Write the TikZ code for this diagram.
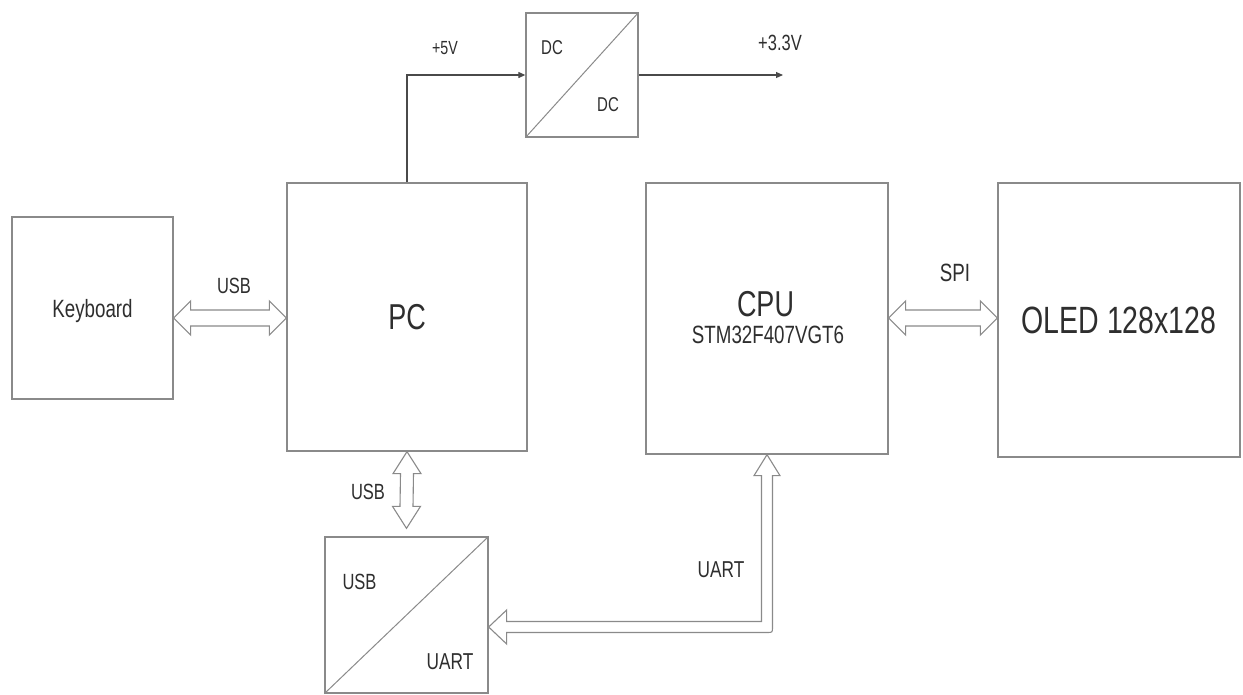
\documentclass[tikz,border=0pt]{standalone}
\usepackage{fontspec}
\newfontfamily\nar[FakeStretch=0.75]{Liberation Sans}
\usetikzlibrary{calc,arrows.meta}
\definecolor{linegray}{HTML}{8A8A8A}
\definecolor{wiregray}{HTML}{4A4A4A}
\definecolor{txtgray}{HTML}{2E2E2E}
\newcommand\fs[1]{\fontsize{#1}{#1}\selectfont}
\newcommand\hdbl[2]{\draw[fatarrow] (#1) -- ($(#1)+(17,-17)$) -- ($(#1)+(17,-8)$) -- ($(#2)+(-17,-8)$) -- ($(#2)+(-17,-17)$) -- (#2) -- ($(#2)+(-17,17)$) -- ($(#2)+(-17,8)$) -- ($(#1)+(17,8)$) -- ($(#1)+(17,17)$) -- cycle;}
\newcommand\vdbl[2]{\draw[fatarrow] (#1) -- ($(#1)+(14,22)$) -- ($(#1)+(6.5,22)$) -- ($(#2)+(6.5,-22)$) -- ($(#2)+(14,-22)$) -- (#2) -- ($(#2)+(-14,-22)$) -- ($(#2)+(-6.5,-22)$) -- ($(#1)+(-6.5,22)$) -- ($(#1)+(-14,22)$) -- cycle;}
\begin{document}
\begin{tikzpicture}[x=1pt,y=-1pt,
  box/.style={draw=linegray,line width=1.3pt,fill=white,inner sep=0pt,text=txtgray,font=\nar,text depth=0pt},
  lbl/.style={inner sep=0pt,text=txtgray,font=\nar,text depth=0pt},
  fatarrow/.style={draw=linegray,line width=1.1pt,fill=white,line join=miter},
  wire/.style={draw=wiregray,line width=1.1pt,-{Triangle[length=7pt,width=6pt]}}]
\useasboundingbox[fill=white] (0,0) rectangle (1243,694);
% boxes
\node[box,minimum width=161pt,minimum height=182pt,font=\nar\fs{25}] (kb) at (92.5,308) {Keyboard};
\node[box,minimum width=240pt,minimum height=268pt,font=\nar\fs{36}] (pc) at (407,317) {PC};
\node[box,minimum width=112pt,minimum height=124pt] (dc) at (582,75) {};
\node[box,minimum width=242pt,minimum height=271pt] (cpu) at (767,318.5) {};
\node[box,minimum width=242pt,minimum height=274pt,font=\nar\fs{38}] (oled) at (1119,320) {OLED 128x128};
\node[box,minimum width=163pt,minimum height=156pt] (conv) at (406.5,615) {};
% diagonals
\draw[linegray,line width=1pt] (dc.south west) -- (dc.north east);
\draw[linegray,line width=1pt] (conv.south west) -- (conv.north east);
% texts inside
\node[lbl,font=\nar\fs{36}] (cpuT) at (765.5,304) {CPU};
\node[lbl,font=\nar\fs{25}] (cpuS) at (768,335) {STM32F407VGT6};
\node[lbl,font=\nar\fs{20}] (dc1) at (552,48) {DC};
\node[lbl,font=\nar\fs{20}] (dc2) at (608,105) {DC};
\node[lbl,font=\nar\fs{22}] (cu) at (359.5,582) {USB};
\node[lbl,font=\nar\fs{23}] (cua) at (450,662) {UART};
% power wires
\draw[wire] (pc.north) |- (dc.west);
\coordinate (v33) at (783,75);
\draw[wire] (dc.east) -- (v33);
\node[lbl,font=\nar\fs{19}] (l5) at (445,48) {+5V};
\node[lbl,font=\nar\fs{22}] (l33) at (780,43) {+3.3V};
% USB keyboard-PC
\coordinate (ka) at (kb.east |- 0,318);
\coordinate (kbp) at (pc.west |- 0,318);
\hdbl{ka}{kbp}
\node[lbl,font=\nar\fs{22}] (lusb1) at (234,286) {USB};
% SPI
\coordinate (sa) at (cpu.east |- 0,318);
\coordinate (sb) at (oled.west |- 0,318);
\hdbl{sa}{sb}
\node[lbl,font=\nar\fs{25}] (lspi) at (955,273) {SPI};
% USB PC-converter
\coordinate (ua1) at (pc.south);
\coordinate (ub1) at ($(conv.north)+(0,-8)$);
\vdbl{ua1}{ub1}
\node[lbl,font=\nar\fs{22}] (lusb2) at (368,492) {USB};
% UART fat arrow
\coordinate (ua) at (cpu.south);
\coordinate (ub) at ($(conv.east)+(0,12)$);
\coordinate (uc) at (ua |- ub);
\draw[fatarrow] (ua) -- ($(ua)+(13,21)$) -- ($(ua)+(5.5,21)$) -- ($(uc)+(5.5,0)$) .. controls ($(uc)+(5.5,5.5)$) .. ($(uc)+(0,5.5)$) -- ($(ub)+(18,5.5)$) -- ($(ub)+(18,17)$) -- (ub) -- ($(ub)+(18,-17)$) -- ($(ub)+(18,-5.5)$) -- ($(uc)+(-5.5,-5.5)$) -- ($(ua)+(-5.5,21)$) -- ($(ua)+(-13,21)$) -- cycle;
\node[lbl,font=\nar\fs{23}] (luart) at (721,570) {UART};
\end{tikzpicture}
\end{document}
